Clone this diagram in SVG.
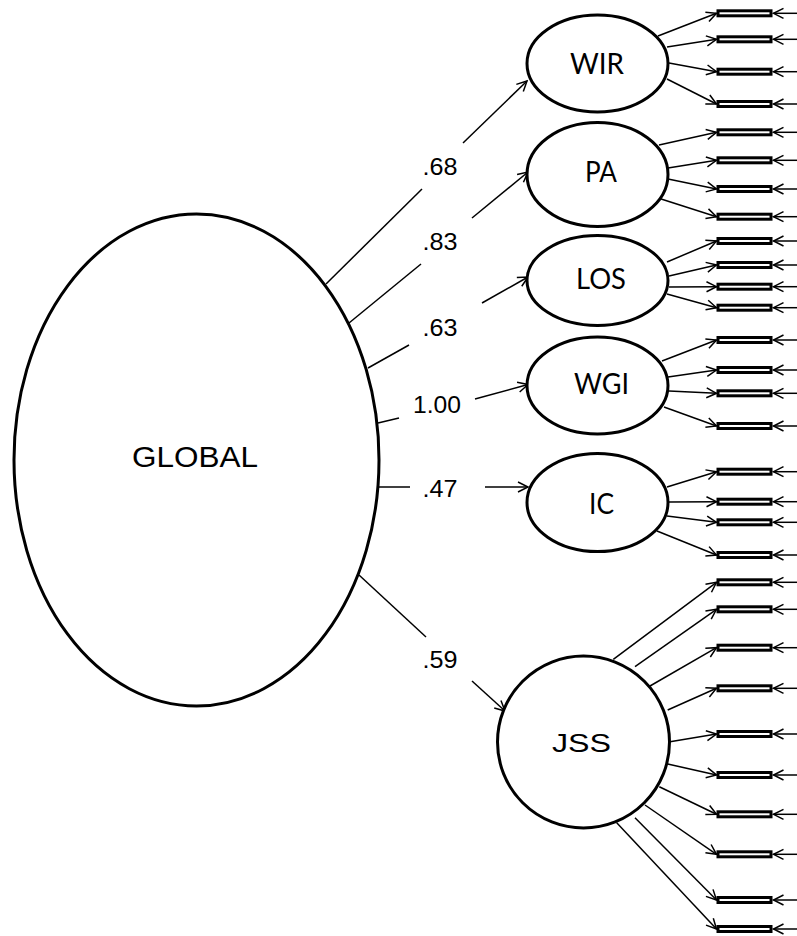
<svg xmlns="http://www.w3.org/2000/svg" width="797" height="936" viewBox="0 0 797 936">
<style>
.lat{fill:#fff;stroke:#000;stroke-width:3}
.box{fill:#fff;stroke:#000;stroke-width:3}
.ln{stroke:#000;stroke-width:1.5;fill:none}
.ar{stroke:#000;stroke-width:1.5;fill:none;marker-end:url(#ah)}
.arial{font-family:"Liberation Sans",Arial,sans-serif;fill:#000}
.cal{font-family:Lato,"Liberation Sans",sans-serif;fill:#000;font-size:29px}
.num{font-family:"Liberation Sans",Arial,sans-serif;fill:#000;font-size:23.5px}
</style>
<defs>
<marker id="ah" markerUnits="userSpaceOnUse" markerWidth="14" markerHeight="14" refX="11" refY="6" orient="auto" overflow="visible">
<path d="M1,1 L11,6 L1,11" fill="none" stroke="#000" stroke-width="1.5"/>
</marker>
</defs>
<rect width="797" height="936" fill="#fff"/>

<g id="connectors">
<line class="ln" x1="326" y1="284" x2="422" y2="189"/>
<line class="ar" x1="463" y1="143" x2="527" y2="81"/>
<line class="ln" x1="349" y1="323" x2="421" y2="264"/>
<line class="ar" x1="472" y1="218" x2="528" y2="172"/>
<line class="ln" x1="368" y1="368" x2="409" y2="345"/>
<line class="ar" x1="482" y1="303" x2="528" y2="277"/>
<line class="ln" x1="378" y1="423" x2="399" y2="418"/>
<line class="ar" x1="475" y1="399" x2="528" y2="384.5"/>
<line class="ln" x1="378" y1="487" x2="410" y2="487"/>
<line class="ar" x1="485" y1="487" x2="528" y2="487"/>
<line class="ln" x1="359" y1="575" x2="426" y2="637"/>
<line class="ar" x1="472" y1="681" x2="505" y2="711"/>
<line class="ar" x1="658" y1="36" x2="716.5" y2="13.3"/>
<line class="ar" x1="667" y1="47" x2="716.5" y2="39.3"/>
<line class="ar" x1="669" y1="63" x2="716.5" y2="71.7"/>
<line class="ar" x1="667" y1="79" x2="716.5" y2="104"/>
<line class="ar" x1="659" y1="145" x2="716.5" y2="132.3"/>
<line class="ar" x1="668" y1="168" x2="716.5" y2="160.3"/>
<line class="ar" x1="668" y1="179" x2="716.5" y2="189"/>
<line class="ar" x1="658" y1="198" x2="716.5" y2="216.7"/>
<line class="ar" x1="667" y1="262" x2="716.5" y2="241"/>
<line class="ar" x1="669" y1="276" x2="716.5" y2="265"/>
<line class="ar" x1="669" y1="287" x2="716.5" y2="286.7"/>
<line class="ar" x1="667" y1="294" x2="716.5" y2="307.7"/>
<line class="ar" x1="662" y1="361" x2="716.5" y2="340"/>
<line class="ar" x1="668" y1="377" x2="716.5" y2="370"/>
<line class="ar" x1="669" y1="391" x2="716.5" y2="393.3"/>
<line class="ar" x1="664" y1="407" x2="716.5" y2="426"/>
<line class="ar" x1="667" y1="487" x2="716.5" y2="471.7"/>
<line class="ar" x1="669" y1="502" x2="716.5" y2="501.7"/>
<line class="ar" x1="667" y1="516" x2="716.5" y2="522.3"/>
<line class="ar" x1="657" y1="531" x2="716.5" y2="555"/>
<line class="ar" x1="613.3" y1="659.3" x2="716.5" y2="582.3"/>
<line class="ar" x1="635" y1="666.7" x2="716.5" y2="609.3"/>
<line class="ar" x1="650" y1="686" x2="716.5" y2="647.7"/>
<line class="ar" x1="667.7" y1="710" x2="716.5" y2="688.3"/>
<line class="ar" x1="670" y1="741.7" x2="716.5" y2="734"/>
<line class="ar" x1="667.7" y1="764" x2="716.5" y2="775"/>
<line class="ar" x1="659.3" y1="786.7" x2="716.5" y2="814.3"/>
<line class="ar" x1="645" y1="805" x2="716.5" y2="854.3"/>
<line class="ar" x1="635" y1="817.7" x2="716.5" y2="900"/>
<line class="ar" x1="616.7" y1="822.7" x2="716.5" y2="929"/>
<line class="ar" x1="800" y1="13.3" x2="773.5" y2="13.3"/>
<line class="ar" x1="800" y1="39.3" x2="773.5" y2="39.3"/>
<line class="ar" x1="800" y1="71.7" x2="773.5" y2="71.7"/>
<line class="ar" x1="800" y1="104" x2="773.5" y2="104"/>
<line class="ar" x1="800" y1="132.3" x2="773.5" y2="132.3"/>
<line class="ar" x1="800" y1="160.3" x2="773.5" y2="160.3"/>
<line class="ar" x1="800" y1="189" x2="773.5" y2="189"/>
<line class="ar" x1="800" y1="216.7" x2="773.5" y2="216.7"/>
<line class="ar" x1="800" y1="241" x2="773.5" y2="241"/>
<line class="ar" x1="800" y1="265" x2="773.5" y2="265"/>
<line class="ar" x1="800" y1="286.7" x2="773.5" y2="286.7"/>
<line class="ar" x1="800" y1="307.7" x2="773.5" y2="307.7"/>
<line class="ar" x1="800" y1="340" x2="773.5" y2="340"/>
<line class="ar" x1="800" y1="370" x2="773.5" y2="370"/>
<line class="ar" x1="800" y1="393.3" x2="773.5" y2="393.3"/>
<line class="ar" x1="800" y1="426" x2="773.5" y2="426"/>
<line class="ar" x1="800" y1="471.7" x2="773.5" y2="471.7"/>
<line class="ar" x1="800" y1="501.7" x2="773.5" y2="501.7"/>
<line class="ar" x1="800" y1="522.3" x2="773.5" y2="522.3"/>
<line class="ar" x1="800" y1="555" x2="773.5" y2="555"/>
<line class="ar" x1="800" y1="582.3" x2="773.5" y2="582.3"/>
<line class="ar" x1="800" y1="609.3" x2="773.5" y2="609.3"/>
<line class="ar" x1="800" y1="647.7" x2="773.5" y2="647.7"/>
<line class="ar" x1="800" y1="688.3" x2="773.5" y2="688.3"/>
<line class="ar" x1="800" y1="734" x2="773.5" y2="734"/>
<line class="ar" x1="800" y1="775" x2="773.5" y2="775"/>
<line class="ar" x1="800" y1="814.3" x2="773.5" y2="814.3"/>
<line class="ar" x1="800" y1="854.3" x2="773.5" y2="854.3"/>
<line class="ar" x1="800" y1="900" x2="773.5" y2="900"/>
<line class="ar" x1="800" y1="929" x2="773.5" y2="929"/>
<text class="num" x="440" y="175" text-anchor="middle" textLength="35" lengthAdjust="spacingAndGlyphs">.68</text>
<text class="num" x="440" y="250" text-anchor="middle" textLength="35" lengthAdjust="spacingAndGlyphs">.83</text>
<text class="num" x="440" y="336" text-anchor="middle" textLength="35" lengthAdjust="spacingAndGlyphs">.63</text>
<text class="num" x="437" y="413" text-anchor="middle" textLength="48" lengthAdjust="spacingAndGlyphs">1.00</text>
<text class="num" x="440" y="497" text-anchor="middle" textLength="35" lengthAdjust="spacingAndGlyphs">.47</text>
<text class="num" x="440" y="668" text-anchor="middle" textLength="35" lengthAdjust="spacingAndGlyphs">.59</text>
</g>

<g id="GLOBAL">
<ellipse class="lat" cx="196.5" cy="460" rx="182.5" ry="246"/>
<text class="arial" x="195" y="467" font-size="29.5" text-anchor="middle" textLength="126" lengthAdjust="spacingAndGlyphs">GLOBAL</text>
</g>
<g id="WIR">
<ellipse class="lat" cx="597.5" cy="63.5" rx="70.5" ry="48.5"/>
<text class="cal" x="597" y="73.5" text-anchor="middle" textLength="54" lengthAdjust="spacingAndGlyphs">WIR</text>
</g>
<g id="PA">
<ellipse class="lat" cx="597.5" cy="174.5" rx="70.5" ry="52"/>
<text class="cal" x="601" y="182" text-anchor="middle" textLength="32" lengthAdjust="spacingAndGlyphs">PA</text>
</g>
<g id="LOS">
<ellipse class="lat" cx="597.5" cy="280.5" rx="70.5" ry="45"/>
<text class="cal" x="601" y="288.5" text-anchor="middle" textLength="50" lengthAdjust="spacingAndGlyphs">LOS</text>
</g>
<g id="WGI">
<ellipse class="lat" cx="597.5" cy="385.5" rx="70.5" ry="48.5"/>
<text class="cal" x="601.5" y="393.5" text-anchor="middle" textLength="55" lengthAdjust="spacingAndGlyphs">WGI</text>
</g>
<g id="IC">
<ellipse class="lat" cx="597.5" cy="502.5" rx="70.5" ry="49"/>
<text class="cal" x="601.5" y="514" text-anchor="middle" textLength="25" lengthAdjust="spacingAndGlyphs">IC</text>
</g>
<g id="JSS">
<circle class="lat" cx="583.5" cy="742" r="86"/>
<text class="arial" x="581.5" y="751.7" font-size="25.5" text-anchor="middle" textLength="59" lengthAdjust="spacingAndGlyphs">JSS</text>
</g>

<g id="WIR1"><rect class="box" x="718" y="10.8" width="53" height="5"/></g>
<g id="WIR2"><rect class="box" x="718" y="36.8" width="53" height="5"/></g>
<g id="WIR3"><rect class="box" x="718" y="69.2" width="53" height="5"/></g>
<g id="WIR4"><rect class="box" x="718" y="101.5" width="53" height="5"/></g>
<g id="PA1"><rect class="box" x="718" y="129.8" width="53" height="5"/></g>
<g id="PA2"><rect class="box" x="718" y="157.8" width="53" height="5"/></g>
<g id="PA3"><rect class="box" x="718" y="186.5" width="53" height="5"/></g>
<g id="PA4"><rect class="box" x="718" y="214.2" width="53" height="5"/></g>
<g id="LOS1"><rect class="box" x="718" y="238.5" width="53" height="5"/></g>
<g id="LOS2"><rect class="box" x="718" y="262.5" width="53" height="5"/></g>
<g id="LOS3"><rect class="box" x="718" y="284.2" width="53" height="5"/></g>
<g id="LOS4"><rect class="box" x="718" y="305.2" width="53" height="5"/></g>
<g id="WGI1"><rect class="box" x="718" y="337.5" width="53" height="5"/></g>
<g id="WGI2"><rect class="box" x="718" y="367.5" width="53" height="5"/></g>
<g id="WGI3"><rect class="box" x="718" y="390.8" width="53" height="5"/></g>
<g id="WGI4"><rect class="box" x="718" y="423.5" width="53" height="5"/></g>
<g id="IC1"><rect class="box" x="718" y="469.2" width="53" height="5"/></g>
<g id="IC2"><rect class="box" x="718" y="499.2" width="53" height="5"/></g>
<g id="IC3"><rect class="box" x="718" y="519.8" width="53" height="5"/></g>
<g id="IC4"><rect class="box" x="718" y="552.5" width="53" height="5"/></g>
<g id="JSS1"><rect class="box" x="718" y="579.8" width="53" height="5"/></g>
<g id="JSS2"><rect class="box" x="718" y="606.8" width="53" height="5"/></g>
<g id="JSS3"><rect class="box" x="718" y="645.2" width="53" height="5"/></g>
<g id="JSS4"><rect class="box" x="718" y="685.8" width="53" height="5"/></g>
<g id="JSS5"><rect class="box" x="718" y="731.5" width="53" height="5"/></g>
<g id="JSS6"><rect class="box" x="718" y="772.5" width="53" height="5"/></g>
<g id="JSS7"><rect class="box" x="718" y="811.8" width="53" height="5"/></g>
<g id="JSS8"><rect class="box" x="718" y="851.8" width="53" height="5"/></g>
<g id="JSS9"><rect class="box" x="718" y="897.5" width="53" height="5"/></g>
<g id="JSS10"><rect class="box" x="718" y="926.5" width="53" height="5"/></g>
</svg>
